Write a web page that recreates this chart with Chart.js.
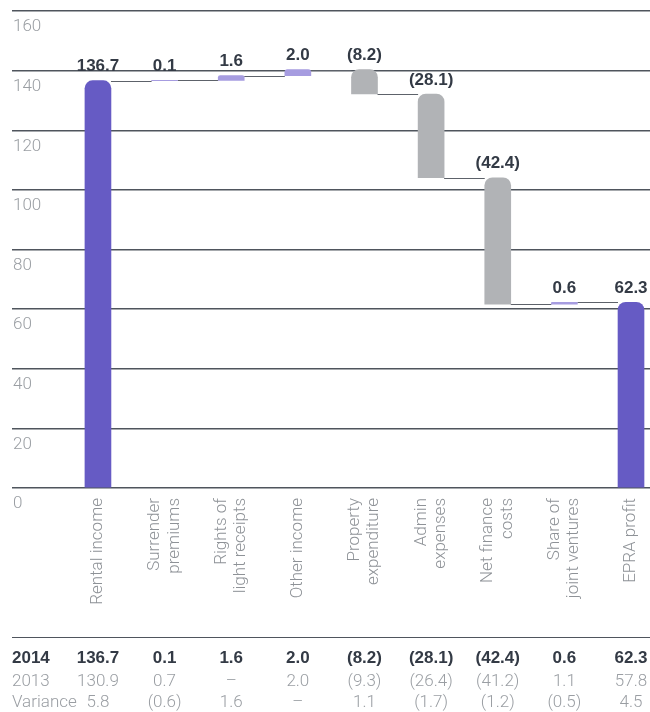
<!DOCTYPE html>
<html>
<head>
<meta charset="utf-8">
<script src="https://cdn.jsdelivr.net/npm/chart.js@4/dist/chart.umd.min.js"></script>
<style>
  html, body { margin: 0; padding: 0; background: #ffffff; }
  #wrap { position: relative; width: 650px; height: 712px; overflow: hidden; }
  #chart { position: absolute; left: 0; top: 0; }
  #table { position: absolute; left: 0; top: 0; width: 650px; height: 712px; pointer-events: none;
           font-family: "Liberation Sans", Arial, sans-serif; font-size: 17px; }
  .rule { position: absolute; left: 12px; right: 0; height: 0; border-top: 1.5px solid #4f555d; }
  .cell { position: absolute; white-space: nowrap; line-height: 20px; transform: translateX(-50%); }
  .head { position: absolute; left: 12px; line-height: 20px; white-space: nowrap; }
  .bold { font-weight: bold; color: #333a45; }
  .light { font-family: Roboto, "Liberation Sans", sans-serif; font-weight: 300; color: #9a9ea3; }
</style>
</head>
<body>
<div id="wrap">
  <canvas id="chart" width="650" height="712"></canvas>
  <div id="table"></div>
</div>
<script>
// EPRA profit bridge, £m
const categories = [
  ['Rental income'],
  ['Surrender', 'premiums'],
  ['Rights of', 'light receipts'],
  ['Other income'],
  ['Property', 'expenditure'],
  ['Admin', 'expenses'],
  ['Net finance', 'costs'],
  ['Share of', 'joint ventures'],
  ['EPRA profit']
];
const values2014 = [136.7, 0.1, 1.6, 2.0, -8.2, -28.1, -42.4, 0.6, 62.3];
const values2013 = [130.9, 0.7, null, 2.0, -9.3, -26.4, -41.2, 1.1, 57.8];
const variance   = [5.8, -0.6, 1.6, null, 1.1, -1.7, -1.2, -0.5, 4.5];
const isTotal    = [true, false, false, false, false, false, false, false, true];
const yTicks     = [0, 20, 40, 60, 80, 100, 120, 140, 160];
const rowLabels  = ['2014', '2013', 'Variance'];

const PURPLE = '#665bc4';
const LILAC  = '#a69ce0';
const GREY   = '#b1b3b6';
const LIGHT_FONT = 'Roboto, "Liberation Sans", sans-serif';

function fmt(v) {
  if (v === null || v === undefined) return '\u2013';
  return v < 0 ? '(' + Math.abs(v).toFixed(1) + ')' : v.toFixed(1);
}

// Build floating [start, end] ranges for the waterfall
let running = 0;
const ranges = values2014.map((v, i) => {
  if (isTotal[i]) { running = v; return [0, v]; }
  const start = running;
  running = +(running + v).toFixed(1);
  return [start, running];
});
const barData = ranges.map((r, i) => ({ x: i, y: r }));
const barColors = values2014.map((v, i) => isTotal[i] ? PURPLE : (v < 0 ? GREY : LILAC));

// Horizontal connector lines between consecutive bars
const connectors = {
  id: 'connectors',
  beforeDatasetsDraw(chart) {
    const meta = chart.getDatasetMeta(0);
    const y = chart.scales.y;
    const ctx = chart.ctx;
    ctx.save();
    ctx.strokeStyle = '#5d626a';
    ctx.lineWidth = 1;
    for (let i = 0; i < meta.data.length - 1; i++) {
      const a = meta.data[i], b = meta.data[i + 1];
      const py = Math.round(y.getPixelForValue(ranges[i][1])) + 0.5;
      ctx.beginPath();
      ctx.moveTo(a.x + a.width / 2, py);
      ctx.lineTo(b.x - b.width / 2, py);
      ctx.stroke();
    }
    ctx.restore();
  }
};

// Value labels above each bar
const valueLabels = {
  id: 'valueLabels',
  afterDatasetsDraw(chart) {
    const meta = chart.getDatasetMeta(0);
    const y = chart.scales.y;
    const ctx = chart.ctx;
    ctx.save();
    ctx.font = 'bold 17px "Liberation Sans", Arial, sans-serif';
    ctx.fillStyle = '#333a45';
    ctx.textAlign = 'center';
    ctx.textBaseline = 'middle';
    meta.data.forEach((bar, i) => {
      const top = y.getPixelForValue(Math.max(ranges[i][0], ranges[i][1]));
      ctx.fillText(fmt(values2014[i]), bar.x, top - 14);
    });
    ctx.restore();
  }
};

// Vertical category labels, multi-line labels centred on their bar
const categoryLabels = {
  id: 'categoryLabels',
  afterDraw(chart) {
    const xs = chart.scales.x;
    const ctx = chart.ctx;
    const lineH = 19.5;
    ctx.save();
    ctx.font = '300 17px ' + LIGHT_FONT;
    ctx.fillStyle = '#8e9297';
    ctx.textAlign = 'right';
    ctx.textBaseline = 'middle';
    categories.forEach((lines, i) => {
      const px = xs.getPixelForValue(i);
      lines.forEach((t, k) => {
        const off = (k - (lines.length - 1) / 2) * lineH;
        ctx.save();
        ctx.translate(px + off, xs.top + 10);
        ctx.rotate(-Math.PI / 2);
        ctx.fillText(t, 0, 0);
        ctx.restore();
      });
    });
    ctx.restore();
  }
};

const chart = new Chart(document.getElementById('chart'), {
  type: 'bar',
  data: {
    datasets: [{
      data: barData,
      backgroundColor: barColors,
      barThickness: 26,
      borderRadius: 8,
      borderSkipped: 'start'
    }]
  },
  options: {
    responsive: false,
    animation: false,
    devicePixelRatio: 1,
    layout: { padding: { left: 12, top: 8, right: 0, bottom: 0 } },
    plugins: { legend: { display: false }, tooltip: { enabled: false } },
    scales: {
      x: {
        type: 'linear',
        bounds: 'data',
        offset: false,
        min: -1.29,
        max: 8.285,
        grid: { display: false },
        border: { display: false },
        afterFit(scale) {
          scale.height = 224;
          scale.paddingLeft = 0;
          scale.paddingRight = 0;
        },
        ticks: { display: false, stepSize: 1 }
      },
      y: {
        min: 0,
        max: 160,
        afterBuildTicks(scale) { scale.ticks = yTicks.map(v => ({ value: v })); },
        afterFit(scale) { scale.width = 0; },
        border: { display: false },
        grid: { color: '#4f555d', lineWidth: 1.5, drawTicks: false },
        ticks: {
          mirror: true,
          padding: 1,
          labelOffset: 16,
          color: '#9a9ea3',
          font: { family: LIGHT_FONT, size: 17, weight: 300 }
        }
      }
    }
  },
  plugins: [connectors, valueLabels, categoryLabels]
});

// Data table under the chart, columns aligned with the bars
(function buildTable() {
  const host = document.getElementById('table');
  const x = chart.scales.x;
  const rule = document.createElement('div');
  rule.className = 'rule';
  rule.style.top = '637px';
  host.appendChild(rule);
  const rows = [values2014, values2013, variance];
  const rowCentres = [658, 680, 701];
  rows.forEach((row, r) => {
    const cls = r === 0 ? 'bold' : 'light';
    const head = document.createElement('div');
    head.className = 'head ' + cls;
    head.style.top = (rowCentres[r] - 10) + 'px';
    head.textContent = rowLabels[r];
    host.appendChild(head);
    row.forEach((v, i) => {
      const c = document.createElement('div');
      c.className = 'cell ' + cls;
      c.style.top = (rowCentres[r] - 10) + 'px';
      c.style.left = x.getPixelForValue(i) + 'px';
      c.textContent = fmt(v);
      host.appendChild(c);
    });
  });
})();
</script>
</body>
</html>
